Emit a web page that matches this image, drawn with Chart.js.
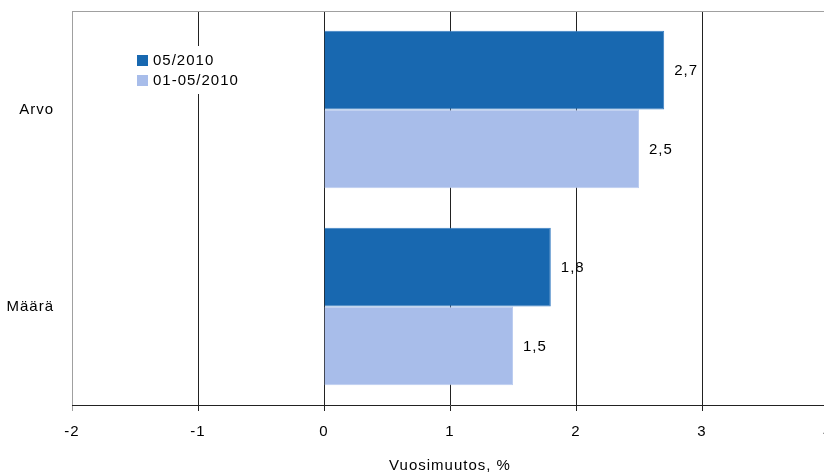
<!DOCTYPE html>
<html>
<head>
<meta charset="utf-8">
<script src="https://cdn.jsdelivr.net/npm/chart.js@4/dist/chart.umd.min.js"></script>
<style>
  html, body { margin: 0; padding: 0; background: #fff; overflow: hidden; }
  #wrap { width: 840px; height: 473px; }
</style>
</head>
<body>
<div id="wrap"><canvas id="chart"></canvas></div>
<script>
// Data
const categories = ['Arvo', 'Määrä'];
const seriesNames = ['05/2010', '01-05/2010'];
const monthValues = [2.7, 1.8];
const periodValues = [2.5, 1.5];
const xTicks = [-2, -1, 0, 1, 2, 3, 4];
const axisTitle = 'Vuosimuutos, %';

const DARK = '#1868b0';
const LIGHT = '#a8bdea';
const FONT = '"Liberation Sans", Arial, sans-serif';

// letter spacing like the original renderer
const spacingPlugin = {
    id: 'spacing',
    beforeDraw(chart) { chart.ctx.letterSpacing = '1px'; }
};

// value labels right of each bar
const valueLabels = {
    id: 'valueLabels',
    afterDatasetsDraw(chart) {
        const ctx = chart.ctx;
        ctx.save();
        ctx.letterSpacing = '1px';
        ctx.font = '15px ' + FONT;
        ctx.fillStyle = '#000';
        ctx.textAlign = 'left';
        ctx.textBaseline = 'middle';
        chart.data.datasets.forEach((ds, i) => {
            chart.getDatasetMeta(i).data.forEach((bar, j) => {
                ctx.fillText(String(ds.data[j]).replace('.', ','), bar.x + 10, bar.y + 1);
            });
        });
        ctx.restore();
    }
};

// legend box inside plot + gray frame lines
const frameAndLegend = {
    id: 'frameAndLegend',
    afterDraw(chart) {
        const ctx = chart.ctx;
        const a = chart.chartArea;
        ctx.save();
        ctx.strokeStyle = '#a0a0a0';
        ctx.lineWidth = 1;
        ctx.beginPath();
        ctx.moveTo(a.left + 0.5, a.bottom);
        ctx.lineTo(a.left + 0.5, a.top + 0.5);
        ctx.lineTo(a.right, a.top + 0.5);
        ctx.stroke();

        ctx.fillStyle = '#fff';
        ctx.fillRect(133, 46, 112, 48);
        ctx.letterSpacing = '1px';
        ctx.font = '15px ' + FONT;
        ctx.textBaseline = 'middle';
        const colors = [DARK, LIGHT];
        seriesNames.forEach((name, i) => {
            const y = 60 + i * 20;
            ctx.fillStyle = colors[i];
            ctx.fillRect(137, y - 5, 11, 11);
            ctx.fillStyle = '#000';
            ctx.fillText(name, 153, y + 1);
        });
        ctx.restore();
    }
};

new Chart(document.getElementById('chart'), {
    type: 'bar',
    data: {
        labels: categories,
        datasets: [
            { label: seriesNames[0], data: monthValues, backgroundColor: DARK, borderColor: '#3a7fc4', borderWidth: 1 },
            { label: seriesNames[1], data: periodValues, backgroundColor: LIGHT, borderColor: '#bccdf0', borderWidth: 1 }
        ]
    },
    options: {
        indexAxis: 'y',
        responsive: true,
        maintainAspectRatio: false,
        animation: false,
        layout: { autoPadding: false, padding: { top: 11, right: 12, left: 0, bottom: 0 } },
        categoryPercentage: 0.8,
        barPercentage: 1.0,
        plugins: { legend: { display: false }, tooltip: { enabled: false } },
        scales: {
            x: {
                min: -2,
                max: 4,
                afterBuildTicks: (s) => { s.ticks = xTicks.map(v => ({ value: v })); },
                afterFit: (s) => { s.height = 68; s.paddingLeft = 0; s.paddingRight = 0; },
                grid: {
                    color: (c) => c.tick && c.tick.value === -2 ? '#a0a0a0' : '#222',
                    lineWidth: 1,
                    tickLength: 6,
                    drawOnChartArea: true
                },
                border: { color: '#222', width: 1 },
                ticks: {
                    color: '#000',
                    padding: 12,
                    font: { family: FONT, size: 15 },
                    callback: (v) => String(v)
                },
                title: {
                    display: true,
                    text: axisTitle,
                    color: '#000',
                    font: { family: FONT, size: 15 },
                    padding: { top: 0, bottom: -2 }
                }
            },
            y: {
                afterFit: (s) => { s.width = 72; s.paddingTop = 0; s.paddingBottom = 0; },
                grid: { display: false },
                border: { display: false },
                ticks: {
                    color: '#000',
                    padding: 10,
                    font: { family: FONT, size: 15 }
                }
            }
        }
    },
    plugins: [spacingPlugin, valueLabels, frameAndLegend]
});
</script>
</body>
</html>
